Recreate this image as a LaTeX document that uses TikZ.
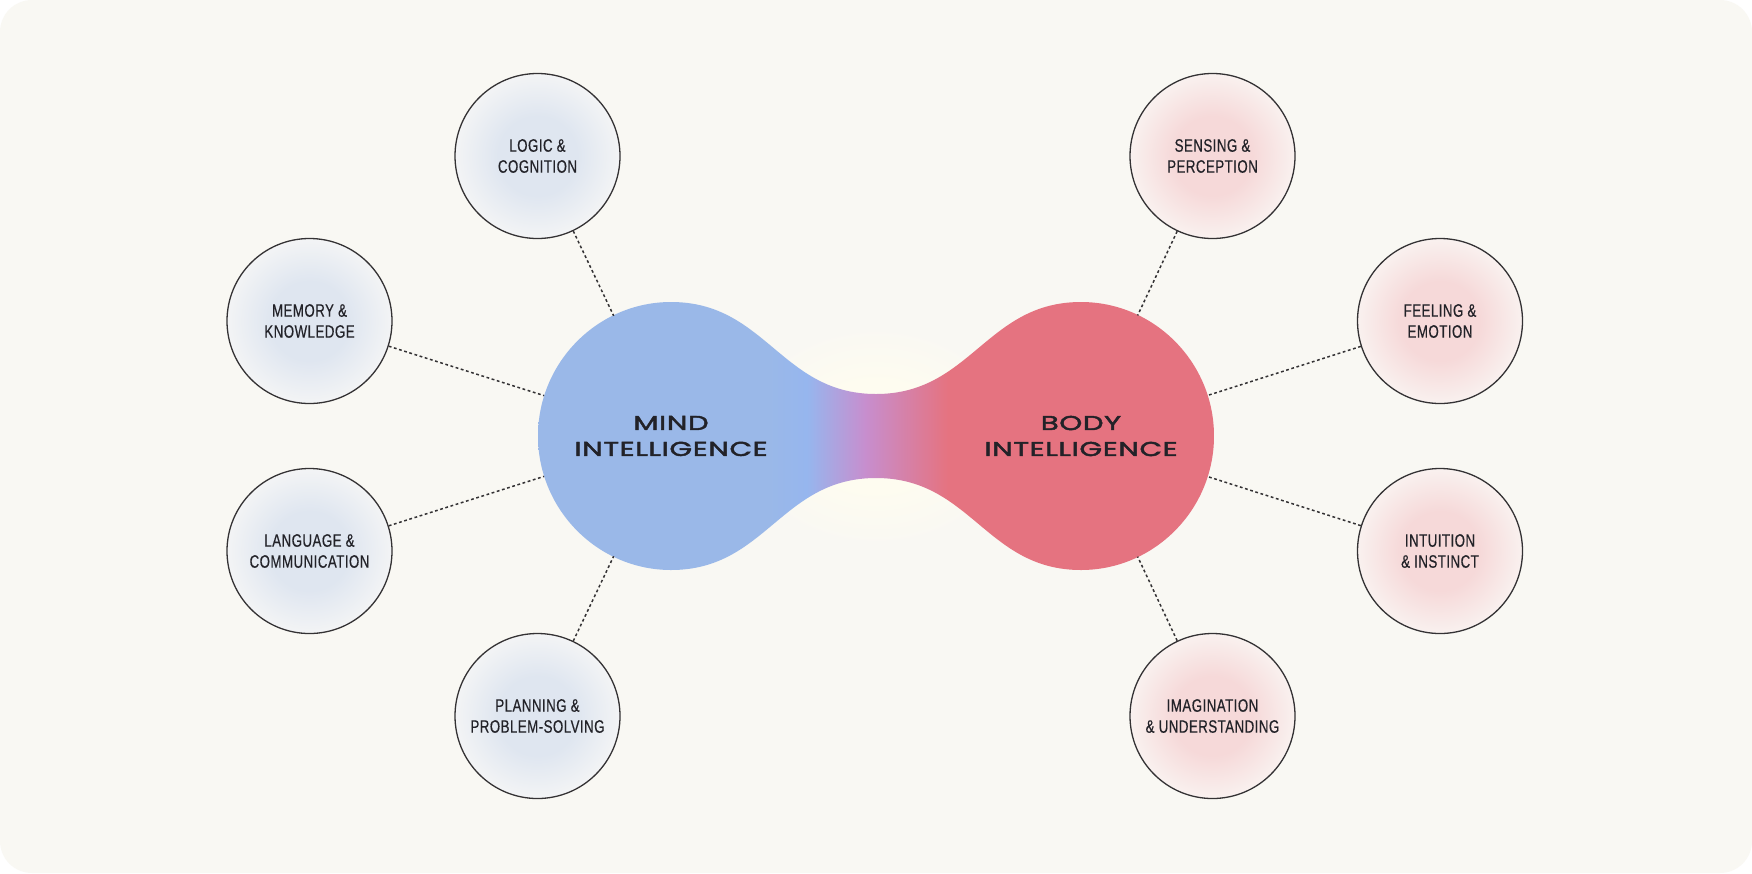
\documentclass[tikz,border=0pt]{standalone}
\usepackage{fontspec}
\newfontfamily\labelfont[FakeStretch=0.74,LetterSpace=2.5,FakeBold=0.4]{Liberation Sans}
\newfontfamily\headfont[FakeStretch=1.46,LetterSpace=3,FakeBold=2.4]{Poppins}

\definecolor{paper}{RGB}{249,248,243}
\definecolor{ink}{RGB}{34,34,40}
\definecolor{rim}{RGB}{52,50,52}
\definecolor{mindblue}{RGB}{154,184,232}
\definecolor{mindbright}{RGB}{150,182,238}
\definecolor{neckpurple}{RGB}{199,142,206}
\definecolor{bodyred}{RGB}{229,115,128}
\definecolor{mindin}{RGB}{223,230,240}
\definecolor{mindout}{RGB}{243,244,245}
\definecolor{bodyin}{RGB}{246,217,217}
\definecolor{bodyout}{RGB}{249,241,239}
\definecolor{glow}{RGB}{254,252,240}

\pgfdeclareradialshading{mindglow}{\pgfpoint{0bp}{0bp}}{color(0bp)=(mindin); color(12bp)=(mindin); color(25bp)=(mindout); color(50bp)=(mindout)}
\pgfdeclareradialshading{bodyglow}{\pgfpoint{0bp}{0bp}}{color(0bp)=(bodyin); color(12bp)=(bodyin); color(25bp)=(bodyout); color(50bp)=(bodyout)}
\pgfdeclareradialshading{neckhalo}{\pgfpoint{0bp}{0bp}}{color(0bp)=(glow); color(12bp)=(glow); color(25bp)=(paper); color(50bp)=(paper)}
\pgfdeclarehorizontalshading{blobshade}{100bp}{color(0bp)=(mindblue); color(42bp)=(mindblue); color(44.9bp)=(mindbright); color(49.2bp)=(neckpurple); color(55.3bp)=(bodyred); color(100bp)=(bodyred)}

\begin{document}
\begin{tikzpicture}[
  x=1pt, y=1pt,
  every node/.style={text=ink},
  topic/.style={circle, draw=rim, line width=1.3pt, minimum size=165pt, inner sep=0pt,
    align=center, font=\labelfont\fontsize{18}{21}\selectfont},
  mindtopic/.style={topic, shading=mindglow},
  bodytopic/.style={topic, shading=bodyglow},
  lobe/.style={circle, minimum size=266pt, inner sep=0pt, align=center,
    font=\headfont\fontsize{20}{26}\selectfont},
  link/.style={draw=rim, line width=1.5pt, dash pattern=on 2.8pt off 2.6pt},
]

%% ── Card background ──────────────────────────────────────────────────────
\useasboundingbox (0,0) rectangle (1752,-873);
\fill[white] (0,0) rectangle (1752,-873);
\fill[paper, rounded corners=32pt] (0,0) rectangle (1752,-873);

%% soft light round the neck
\shade[shading=neckhalo] (876,-436) ellipse [x radius=140, y radius=110];

%% ── Mind / body blob (two lobes joined by a neck) ────────────────────────
\shade[shading=blobshade]
  (538,-436) .. controls (538,-362) and (598,-302) .. (671,-302)
             .. controls (766,-302) and (781,-394) .. (876,-394)
             .. controls (971,-394) and (986,-302) .. (1081,-302)
             .. controls (1154,-302) and (1214,-362) .. (1214,-436)
             .. controls (1214,-510) and (1154,-570) .. (1081,-570)
             .. controls (986,-570) and (971,-478) .. (876,-478)
             .. controls (781,-478) and (766,-570) .. (671,-570)
             .. controls (598,-570) and (538,-510) .. (538,-436) -- cycle;

\node[lobe] (mind) at (671,-436) {MIND\\INTELLIGENCE};
\node[lobe] (body) at (1081,-436) {BODY\\INTELLIGENCE};

%% ── Topic circles ────────────────────────────────────────────────────────
\foreach \name/\pos/\txt in {
    logic/{537.5,-156}/{LOGIC \&\\COGNITION},
    memory/{309.5,-321}/{MEMORY \&\\KNOWLEDGE},
    language/{309.5,-551}/{LANGUAGE \&\\COMMUNICATION},
    planning/{537.5,-716}/{PLANNING \&\\PROBLEM-SOLVING}} {
  \node[mindtopic] (\name) at (\pos) {\txt};
}
\foreach \name/\pos/\txt in {
    sensing/{1212.5,-156}/{SENSING \&\\PERCEPTION},
    feeling/{1440,-321}/{FEELING \&\\EMOTION},
    intuition/{1440,-551}/{INTUITION\\\& INSTINCT},
    imagination/{1212.5,-716}/{IMAGINATION\\\& UNDERSTANDING}} {
  \node[bodytopic] (\name) at (\pos) {\txt};
}

%% ── Dotted links to the lobes ────────────────────────────────────────────
\foreach \name in {logic, memory, language, planning}
  \draw[link] (\name) -- (mind);
\foreach \name in {sensing, feeling, intuition, imagination}
  \draw[link] (\name) -- (body);

\end{tikzpicture}
\end{document}
